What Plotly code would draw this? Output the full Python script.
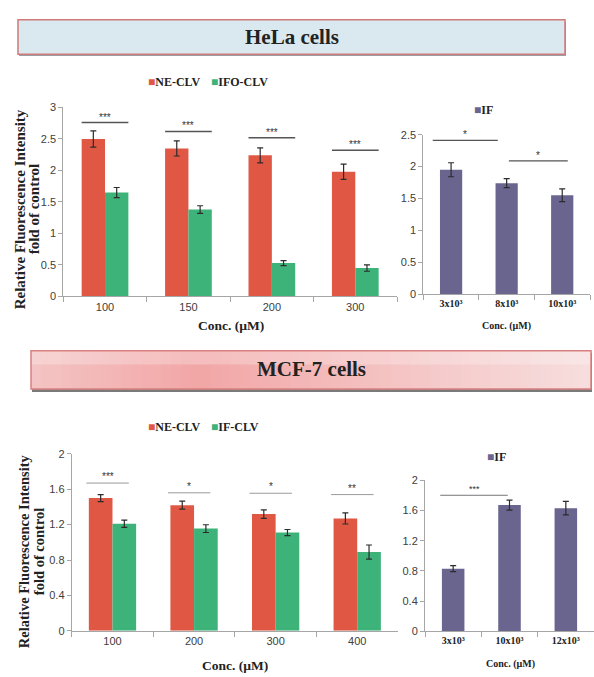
import plotly.graph_objects as go

W, H = 594, 677


def fx(x):
    return x / W


def fy(y):
    return 1 - y / H


# ---------------- data ----------------
# HeLa, left panel
hela_conc = ["100", "150", "200", "300"]
hela_ne = [2.50, 2.35, 2.24, 1.98]
hela_ne_err = [0.13, 0.12, 0.12, 0.12]
hela_ifo = [1.65, 1.38, 0.53, 0.45]
hela_ifo_err = [0.08, 0.06, 0.04, 0.05]
hela_sig = ["***", "***", "***", "***"]
hela_sig_y = [2.76, 2.62, 2.52, 2.32]

# HeLa, right panel
hela_if_conc = ["3x10³", "8x10³", "10x10³"]
hela_if = [1.95, 1.74, 1.55]
hela_if_err = [0.11, 0.07, 0.10]
hela_if_sig = ["*", "*"]
hela_if_sig_y = [2.41, 2.09]
hela_if_sig_x0 = [-0.33, 1.04]
hela_if_sig_x1 = [0.84, 2.10]

# MCF-7, left panel
mcf_conc = ["100", "200", "300", "400"]
mcf_ne = [1.50, 1.42, 1.32, 1.27]
mcf_ne_err = [0.04, 0.045, 0.048, 0.063]
mcf_if = [1.21, 1.155, 1.11, 0.89]
mcf_if_err = [0.04, 0.044, 0.035, 0.08]
mcf_sig = ["***", "*", "*", "**"]
mcf_sig_y = [1.67, 1.56, 1.555, 1.54]

# MCF-7, right panel
mcf_if_conc = ["3x10³", "10x10³", "12x10³"]
mcf_if2 = [0.83, 1.67, 1.63]
mcf_if2_err = [0.04, 0.067, 0.09]
mcf_if2_sig = ["***"]
mcf_if2_sig_y = [1.80]
mcf_if2_sig_x0 = [-0.23]
mcf_if2_sig_x1 = [0.97]

RED = "#e05844"
GREEN = "#3db37a"
PURPLE = "#6a658f"
AXC = "#a6a6a6"
TICKC = "#404040"
SERIF = "Liberation Serif"
SANS = "Liberation Sans"

fig = go.Figure()

err_style = dict(type="data", color="#2b2b2b", thickness=1.2, width=3)


def bar(x, y, err, color, w, off, xa, ya, name):
    return go.Bar(
        x=x, y=y, width=w, offset=off, name=name,
        marker=dict(color=color, line=dict(width=0)),
        error_y=dict(array=err, **err_style),
        xaxis=xa, yaxis=ya, showlegend=False,
    )


# HeLa left
wL1 = 0.28
fig.add_trace(bar(hela_conc, hela_ne, hela_ne_err, RED, wL1, -wL1, "x", "y", "NE-CLV"))
fig.add_trace(bar(hela_conc, hela_ifo, hela_ifo_err, GREEN, wL1, 0, "x", "y", "IFO-CLV"))
# HeLa right
wR1 = 0.40
fig.add_trace(bar(hela_if_conc, hela_if, hela_if_err, PURPLE, wR1, -wR1 / 2, "x2", "y2", "IF"))
# MCF left
wL2 = 0.29
fig.add_trace(bar(mcf_conc, mcf_ne, mcf_ne_err, RED, wL2, -wL2, "x3", "y3", "NE-CLV"))
fig.add_trace(bar(mcf_conc, mcf_if, mcf_if_err, GREEN, wL2, 0, "x3", "y3", "IF-CLV"))
# MCF right
wR2 = 0.40
fig.add_trace(bar(mcf_if_conc, mcf_if2, mcf_if2_err, PURPLE, wR2, -wR2 / 2, "x4", "y4", "IF"))

shapes = []
annotations = []


def ann(**kw):
    d = dict(showarrow=False, xanchor="center", yanchor="middle")
    d.update(kw)
    annotations.append(d)


def sig_line(xa, ya, x0, x1, y, label, color, lw, fsize, yshift):
    shapes.append(dict(type="line", xref=xa, yref=ya, x0=x0, x1=x1, y0=y, y1=y,
                       line=dict(color=color, width=lw)))
    ann(xref=xa, yref=ya, x=(x0 + x1) / 2, y=y, text=label, yshift=yshift, yanchor="bottom",
        font=dict(family=SANS, size=fsize, color="#333"))


for i, (lab, yv) in enumerate(zip(hela_sig, hela_sig_y)):
    sig_line("x", "y", i - wL1, i + wL1, yv, lab, "#555555", 1.5, 10, -2)
for lab, yv, a, b in zip(hela_if_sig, hela_if_sig_y, hela_if_sig_x0, hela_if_sig_x1):
    sig_line("x2", "y2", a, b, yv, lab, "#555555", 1.3, 10, -2)
for i, (lab, yv) in enumerate(zip(mcf_sig, mcf_sig_y)):
    sig_line("x3", "y3", i - 0.32, i + 0.2, yv, lab, "#9a9a9a", 1, 10, -1)
for lab, yv, a, b in zip(mcf_if2_sig, mcf_if2_sig_y, mcf_if2_sig_x0, mcf_if2_sig_x1):
    sig_line("x4", "y4", a, b, yv, lab, "#777777", 1, 9, -1)

# ---------------- banners ----------------
# HeLa banner
shapes.append(dict(type="rect", xref="paper", yref="paper", layer="below",
                   x0=fx(19), x1=fx(566), y0=fy(51), y1=fy(16),
                   fillcolor="#9a9ea6", line=dict(width=0)))
shapes.append(dict(type="rect", xref="paper", yref="paper", layer="below",
                   x0=fx(18), x1=fx(565), y0=fy(49), y1=fy(14),
                   fillcolor="#dae8ef", line=dict(color="#d07a7a", width=1.5)))
ann(xref="paper", yref="paper", x=fx(292), y=fy(32), text="<b>HeLa cells</b>",
    font=dict(family=SERIF, size=21, color="#222"))

# MCF-7 banner (horizontal gradient built from strips)
bx0, bx1, by0, by1 = 31, 591, 351, 390
shapes.append(dict(type="rect", xref="paper", yref="paper", layer="below",
                   x0=fx(bx0 + 1), x1=fx(bx1 + 1), y0=fy(by1 + 3), y1=fy(by0 + 2),
                   fillcolor="#7a7a7a", line=dict(width=0)))
stops = [(0.0, (244, 196, 196)), (0.3, (242, 166, 166)), (0.7, (245, 200, 200)), (1.0, (247, 222, 222))]


def grad(t):
    for (t0, c0), (t1, c1) in zip(stops[:-1], stops[1:]):
        if t0 <= t <= t1:
            u = (t - t0) / (t1 - t0)
            return "rgb(%d,%d,%d)" % tuple(round(a + (b - a) * u) for a, b in zip(c0, c1))
    return "rgb(247,222,222)"


N = 56
for k in range(N):
    xa = bx0 + (bx1 - bx0) * k / N
    xb = bx0 + (bx1 - bx0) * (k + 1) / N + 0.6
    shapes.append(dict(type="rect", xref="paper", yref="paper", layer="below",
                       x0=fx(xa), x1=fx(min(xb, bx1)), y0=fy(by1), y1=fy(by0),
                       fillcolor=grad((k + 0.5) / N), line=dict(width=0)))
# top highlight
shapes.append(dict(type="rect", xref="paper", yref="paper", layer="below",
                   x0=fx(bx0), x1=fx(bx1), y0=fy(by0 + 14), y1=fy(by0),
                   fillcolor="rgba(255,255,255,0.25)", line=dict(width=0)))
shapes.append(dict(type="rect", xref="paper", yref="paper", layer="below",
                   x0=fx(bx0), x1=fx(bx1), y0=fy(by1), y1=fy(by0),
                   fillcolor="rgba(0,0,0,0)", line=dict(color="#d98080", width=1.5)))
ann(xref="paper", yref="paper", x=fx(311), y=fy(370), text="<b>MCF-7 cells</b>",
    font=dict(family=SERIF, size=21, color="#222"))


# ---------------- legends ----------------
def legend(items, y):
    for x, color, label in items:
        ann(xref="paper", yref="paper", x=fx(x), y=fy(y), xanchor="left",
            text="<span style='color:%s'>■</span><b>%s</b>" % (color, label),
            font=dict(family=SERIF, size=12, color="#222"))


legend([(146, RED, "NE-CLV"), (209, GREEN, "IFO-CLV")], 77)
legend([(472, PURPLE, "IF")], 106)
legend([(146, RED, "NE-CLV"), (209, GREEN, "IF-CLV")], 429)
legend([(485, PURPLE, "IF")], 459)

# ---------------- axis titles ----------------
for yc, x1, x2, fs in [(207, 20, 34, 15), (555, 24, 39, 14.5)]:
    ann(xref="paper", yref="paper", x=fx(x1), y=fy(yc), textangle=-90,
        text="<b>Relative Fluorescence Intensity</b>",
        font=dict(family=SERIF, size=fs, color="#222"))
    ann(xref="paper", yref="paper", x=fx(x2), y=fy(yc), textangle=-90,
        text="<b>fold of control</b>",
        font=dict(family=SERIF, size=fs, color="#222"))

for x, y, s in [(231, 325, 13.5), (507, 326, 10), (235, 671, 13.5), (510, 670, 10)]:
    ann(xref="paper", yref="paper", x=fx(x), y=fy(y), text="<b>Conc. (µM)</b>",
        font=dict(family=SERIF, size=s, color="#222"))


def xaxis(d0, d1, anchor, n, bold=False):
    tf = dict(family=SERIF, size=10, color="#222", weight="bold") if bold else \
        dict(family=SANS, size=11, color=TICKC)
    return dict(domain=[fx(d0), fx(d1)], anchor=anchor, type="category",
                range=[-0.5, n - 0.5], showline=True, linecolor=AXC, linewidth=1,
                ticks="outside", tickson="boundaries", ticklen=5, tickcolor=AXC,
                tickfont=tf, showgrid=False, zeroline=False, fixedrange=True)


def yaxis(p0, p1, anchor, rng, dt, fmt=None):
    d = dict(domain=[fy(p0), fy(p1)], anchor=anchor, range=rng, dtick=dt, tick0=0,
             showline=True, linecolor=AXC, linewidth=1, ticks="outside", ticklen=4,
             tickcolor=AXC, tickfont=dict(family=SANS, size=11, color=TICKC),
             showgrid=False, zeroline=False, fixedrange=True)
    if fmt:
        d["tickformat"] = fmt
    return d


fig.update_layout(
    width=W, height=H, margin=dict(l=0, r=0, t=0, b=0),
    paper_bgcolor="white", plot_bgcolor="white", barmode="overlay",
    xaxis=xaxis(63.3, 397, "y", 4),
    yaxis=yaxis(295.7, 103.3, "x", [0, 3], 0.5),
    xaxis2=xaxis(423.3, 590, "y2", 3, bold=True),
    yaxis2=yaxis(293.3, 131, "x2", [0, 2.5], 0.5),
    xaxis3=xaxis(71.7, 398, "y3", 4),
    yaxis3=yaxis(636, 456, "x3", [0, 2], 0.4),
    xaxis4=xaxis(425, 594, "y4", 3, bold=True),
    yaxis4=yaxis(636.7, 482.7, "x4", [0, 2], 0.4),
    shapes=shapes, annotations=annotations,
)

fig.write_html("out.html", config={"displayModeBar": False},
               post_script="document.body.style.margin='0';")
